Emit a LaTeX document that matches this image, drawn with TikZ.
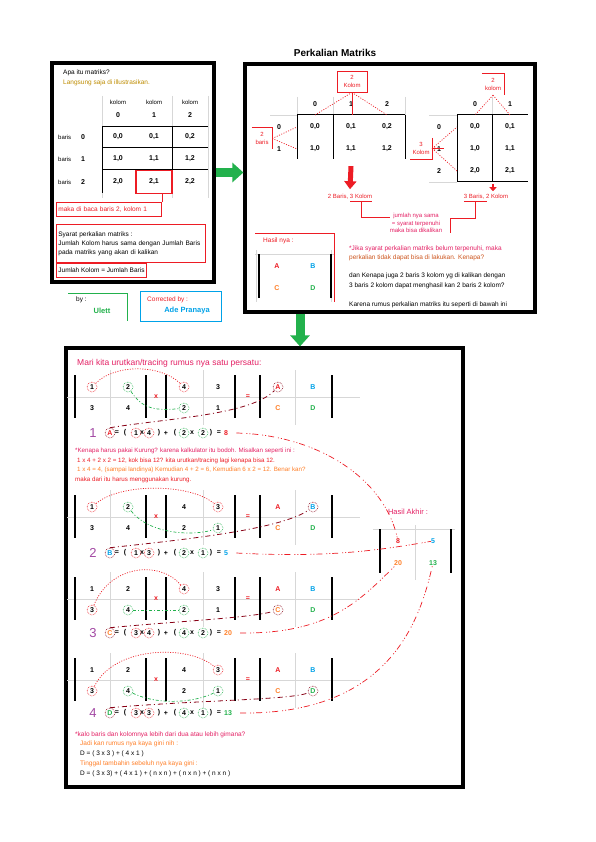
\documentclass[tikz,border=0pt]{standalone}
\usepackage{fontspec}
\setmainfont{Liberation Sans}
\usetikzlibrary{positioning, arrows.meta}

\definecolor{merah}{RGB}{237,28,36}
\definecolor{merahmuda}{RGB}{228,32,100}
\definecolor{hijau}{RGB}{34,177,76}
\definecolor{biru}{RGB}{0,162,232}
\definecolor{jingga}{RGB}{255,127,39}
\definecolor{coklat}{RGB}{205,85,30}
\definecolor{marun}{RGB}{136,0,21}
\definecolor{ungu}{RGB}{163,73,164}
\definecolor{abu}{RGB}{215,215,215}
\definecolor{kuning}{RGB}{190,140,0}

% satu blok matriks: #1 nomor, #2 y atas, #3 isi sel
\newcommand\isiblok[3]{%
  \foreach \xg in {110,203,295} \draw[gline] (\xg,#2-5) -- (\xg,#2+50);
  \draw[gline] (67,#2+22) -- (360,#2+22);
  \foreach \xb in {75,146,166,235,260,332} \draw[bar] (\xb,#2) -- (\xb,#2+43);
  \node[tanda, text=merah] (kali#1) at (156,#2+22) {x};
  \node[tanda, text=merah] (samdg#1) at (248,#2+22) {=};
  \foreach \ci/\ri/\isi/\gaya in {#3} {
    \pgfmathsetmacro\xx{{92,128,184,218,278,313}[\ci-1]}
    \node[\gaya] (p#1\ci\ri) at (\xx,#2+21*\ri-9) {\isi};
  }%
}
% baris rumus: #1 nomor, #2 y, #3 gaya huruf, #4 huruf, #5 angka, #6 hasil, #7 warna
\newcommand\rumus[7]{%
  \node[nomor] (no#1) at (93,#2) {#1};
  \node[#3] (r#1) at (110,#2) {#4};
  \foreach \xs/\isi [count=\i] in {117/=,125/{(},142/x,159/{)},166/+,175/{(},192/x,211/{)},219/=}
    \node[tanda] (s#1-\i) at (\xs,#2) {\isi};
  \foreach \xs/\isi/\gaya [count=\i] in {#5}
    \node[\gaya] (q#1-\i) at (\xs,#2) {\isi};
  \node[tanda, text=#7, anchor=west] (h#1) at (224,#2) {#6};
}

\begin{document}
\begin{tikzpicture}[x=1pt, y=-1pt,
  txt/.style={font=\fontsize{6.5}{8}\selectfont, inner sep=0pt, anchor=west},
  lbl/.style={font=\fontsize{6}{7.5}\selectfont, inner sep=0pt, align=center},
  cell/.style={font=\fontsize{7}{8}\selectfont\bfseries, inner sep=0pt},
  tanda/.style={font=\fontsize{7}{8}\selectfont\bfseries, inner sep=0pt},
  nomor/.style={font=\fontsize{13}{13}\selectfont, text=ungu, inner sep=0pt},
  frame/.style={draw, line width=3.2pt, inner sep=0pt},
  mline/.style={line width=1pt},
  bar/.style={line width=1.8pt},
  gline/.style={draw=abu, line width=0.7pt},
  rline/.style={draw=merah, line width=0.8pt},
  rbox/.style={draw=merah, line width=0.8pt, inner sep=2pt},
  garrow/.style={draw=hijau, line width=9pt, -{Triangle[length=11pt,width=19pt]}},
  rarrow/.style={draw=merah, line width=5pt, -{Triangle[length=8pt,width=12pt]}},
  angka/.style={tanda},
  lingkar/.style={tanda, circle, densely dotted, line width=0.6pt, minimum size=10pt},
  angkam/.style={lingkar, draw=merah},
  angkah/.style={lingkar, draw=hijau},
  hurA/.style={tanda, text=merah},
  hurB/.style={tanda, text=biru},
  hurC/.style={tanda, text=jingga},
  hurD/.style={tanda, text=hijau},
  lingA/.style={lingkar, draw=marun, text=merah},
  lingB/.style={lingkar, draw=marun, text=biru},
  lingC/.style={lingkar, draw=marun, text=jingga},
  lingD/.style={lingkar, draw=marun, text=hijau},
  jmerah/.style={draw=merah, line width=0.7pt, dash pattern=on 1pt off 1.5pt},
  jhijau/.style={draw=hijau, line width=0.7pt, dash pattern=on 3pt off 2pt on 1pt off 2pt},
  jmarun/.style={draw=marun, line width=0.8pt, dash pattern=on 5pt off 3pt on 1pt off 3pt},
  jhasil/.style={draw=merah, line width=0.7pt, dash pattern=on 6pt off 4pt on 1pt off 2pt on 1pt off 2pt},
]
\fill[white] (0,0) rectangle (595,842);
\useasboundingbox (0,0) rectangle (595,842);

% Kotak kiri atas
\node[frame, minimum width=162pt, minimum height=219pt] (kiri) at (133,172.5) {};
\node[txt] (apa) at (63,73) {Apa itu matriks?};
\node[txt, text=kuning] (langsung) at (63,83) {Langsung saja di illustrasikan.};
\foreach \xg in {102,172,208} \draw[gline] (\xg,96) -- (\xg,198);
\foreach \ci in {0,1,2} {
  \node[txt, anchor=center, font=\fontsize{6}{7}\selectfont] (kk\ci) at ({118+36*\ci},102) {kolom};
  \node[cell] (kn\ci) at ({118+36*\ci},115) {\ci};
}
\foreach \ri/\yr in {0/137,1/159,2/182} {
  \node[txt, font=\fontsize{6}{7}\selectfont] (kb\ri) at (58,\yr) {baris};
  \node[cell] (kr\ri) at (83,\yr) {\ri};
  \foreach \ci in {0,1,2}
    \node[cell] (k\ri\ci) at ({118+36*\ci},\yr) {\ri,\ci};
}
\draw[mline] (102,127) -- (208,127) (102,148) -- (208,148) (102,170) -- (208,170)
  (102,127) -- (102,193) (172,127) -- (172,193);
\node[draw=merah, line width=1.4pt, minimum width=36pt, minimum height=23pt] (sel21) at (k21) {};
\node[rbox, anchor=north west, text width=101pt, minimum height=14pt, font=\fontsize{6.5}{8}\selectfont, text=merah] (baca) at (56,202) {maka di baca baris 2, kolom 1};
\draw[rline] ([xshift=8pt]sel21.south) -- ([xshift=8pt]sel21.south |- baca.north);
\node[rbox, anchor=north west, text width=145pt, minimum height=38pt, align=left, font=\fontsize{6.5}{9}\selectfont] (syarat) at (56,224) {Syarat perkalian matriks :\\Jumlah Kolom harus sama dengan Jumlah Baris\\pada matriks yang akan di kalikan};
\node[rbox, anchor=north west, font=\fontsize{6.5}{8}\selectfont, minimum height=14pt] (jumlah) at (syarat.south west) {Jumlah Kolom = Jumlah Baris};

% Pembuat
\draw[draw=hijau, line width=0.8pt] (68,293) -| (127,321);
\node[txt] (oleh) at (76,300) {by :};
\node[font=\fontsize{7.5}{9}\selectfont\bfseries, text=hijau] (ulett) at (102,311) {Ulett};
\draw[draw=biru, line width=0.8pt] (140,291) rectangle (221,321);
\node[txt, text=merah] (koreksi) at (147,300) {Corrected by :};
\node[font=\fontsize{7.5}{9}\selectfont\bfseries, text=biru] (ade) at (187,311) {Ade Pranaya};

% Kotak kanan
\node[frame, minimum width=290pt, minimum height=248pt] (kanan) at (390,188) {};
\node[font=\fontsize{10}{12}\selectfont\bfseries] (judul) at (335,53) {Perkalian Matriks};
\coordinate (m1) at (297,115);
\coordinate (m2) at (457,115);
\coordinate (m2b) at (457,182);
\draw[gline] (270,115) -- (297,115) (429,115) -- (457,115) (429,182) -- (457,182);
\foreach \xg in {297,333,405,492} \draw[gline] (\xg,97) -- (\xg,115);
\foreach \ci in {0,1,2} \node[cell] (ak\ci) at ({315+36*\ci},104) {\ci};
\foreach \ri in {0,1} {
  \node[cell] (ab\ri) at (279,{127+22*\ri}) {\ri};
  \foreach \ci in {0,1,2}
    \node[cell] (a\ri\ci) at ({315+36*\ci},{127+22*\ri}) {\ri,\ci};
}
\draw[mline] (297,115) -- (405,115) (297,115) -- (297,159) (333,115) -- (333,159) (405,115) -- (405,159);
\foreach \ci in {0,1} \node[cell] (bk\ci) at ({475+35*\ci},104) {\ci};
\foreach \ri in {0,1,2} {
  \node[cell] (bb\ri) at (439,{127+22*\ri}) {\ri};
  \foreach \ci in {0,1}
    \node[cell] (b\ri\ci) at ({475+35*\ci},{127+22*\ri}) {\ri,\ci};
}
\draw[mline] (457,115) -- (528,115) (457,182) -- (528,182) (457,115) -- (457,182) (492,115) -- (492,182);

% Label baris dan kolom
\node[lbl, text=merah, minimum width=30pt, minimum height=21pt, draw=merah, line width=0.8pt] (kol2) at (352,81.5) {2\\Kolom};
\draw[rline] (kol2.south) -- (kol2.south |- m1);
\draw[jmerah] (kol2.south) -- (a00 |- m1) (kol2.south) -- (a02 |- m1);
\node[lbl, text=merah, minimum width=20pt, minimum height=21pt] (bar2) at (262,138.5) {2\\baris};
\draw[rline] (bar2.north west) -- (bar2.north east) -- (bar2.south east);
\draw[jmerah] (bar2.east) -- (a00 -| m1) (bar2.east) -- (a10 -| m1);
\node[lbl, text=merah, minimum width=22pt, minimum height=21pt] (kol3) at (421,148.5) {3\\Kolom};
\draw[rline] (kol3.north east) -- (kol3.south east) -- (kol3.south west);
\draw[rline, {Stealth[length=3pt]}-] (kol3.east) -- ++(12,0);
\draw[jmerah] (kol3.east) -- (b00 -| m2) (kol3.east) -- (b20 -| m2);
\node[lbl, text=merah, minimum width=22pt, minimum height=21pt] (kol2b) at (493,84.5) {2\\kolom};
\draw[rline] (kol2b.north west) -- (kol2b.north east) -- (kol2b.south east);
\draw[jmerah] (kol2b.south) -- (b00 |- m2) (kol2b.south) -- (b01 |- m2);

% Ukuran hasil
\node[lbl, text=merah] (dim1) at (350,197) {2 Baris, 3 Kolom};
\node[lbl, text=merah] (dim2) at (486,197) {3 Baris, 2 Kolom};
\coordinate (pk) at (m2b -| kol2b);
\draw[rarrow] ([yshift=-14pt]a11.south) -- ([yshift=5pt]dim1.north);
\draw[rarrow, line width=2.5pt, -{Triangle[length=4pt,width=7pt]}] ([yshift=-2pt]pk) -- ([yshift=3pt]pk |- dim2.north);
\node[lbl, text=merahmuda] (sama) at (416,223) {jumlah nya sama\\= syarat terpenuhi\\maka bisa dikalikan};
\draw[rline] ([xshift=-22pt,yshift=-1.5pt]dim1.south east) -- ([yshift=-1.5pt]dim1.south east);
\draw[rline] ([xshift=-11pt,yshift=-1.5pt]dim1.south east) |- ([yshift=6pt]sama.west);
\draw[rline] ([yshift=-1.5pt]dim2.south west) -- ([xshift=23pt,yshift=-1.5pt]dim2.south west);
\draw[rline] ([xshift=12pt,yshift=-1.5pt]dim2.south west) -- ++(0,17) -| ([xshift=8pt]sama.south east);
\node[txt, text=merahmuda] (jika1) at (349,249) {*Jika syarat perkalian matriks belum terpenuhi, maka};
\node[txt, text=coklat] (jika2) at (349,258) {perkalian tidak dapat bisa di lakukan. Kenapa?};
\node[txt] (dan1) at (349,276) {dan Kenapa juga 2 baris 3 kolom yg di kalikan dengan};
\node[txt] (dan2) at (349,286) {3 baris 2 kolom dapat menghasil kan 2 baris 2 kolom?};
\node[txt] (karena) at (349,305) {Karena rumus perkalian matriks itu seperti di bawah ini};

% Hasil nya
\node[txt, text=merah] (hasilnya) at (263,241) {Hasil nya :};
\draw[rline] (255,233) -| (334,302);
\draw[gline] (255,254) -- (334,254) (256,250) -- (256,302) (331,250) -- (331,302);
\draw[bar] (259,254) -- (259,298) (331,254) -- (331,298);
\node[hurA] (ha) at (277,266) {A};
\node[hurB] (hb) at (313,266) {B};
\node[hurC] (hc) at (277,288) {C};
\node[hurD] (hd) at (313,288) {D};

% Kotak bawah
\node[frame, minimum width=397pt, minimum height=439pt] (bawah) at (264.5,567.5) {};
\draw[garrow] (kiri.east) -- (kiri.east -| kanan.west);
\draw[garrow] ([xshift=-90pt]kanan.south) -- ([xshift=-90pt]kanan.south |- bawah.north);
\node[txt, font=\fontsize{8.5}{10}\selectfont, text=merahmuda] (mari) at (77,363) {Mari kita urutkan/tracing rumus nya satu persatu:};

\isiblok{1}{375}{1/1/1/angkam, 2/1/2/angkah, 3/1/4/angkam, 4/1/3/angka, 5/1/A/lingA, 6/1/B/hurB, 1/2/3/angka, 2/2/4/angka, 3/2/2/angkah, 4/2/1/angka, 5/2/C/hurC, 6/2/D/hurD}
\isiblok{2}{495}{1/1/1/angkam, 2/1/2/angkah, 3/1/4/angka, 4/1/3/angkam, 5/1/A/hurA, 6/1/B/lingB, 1/2/3/angka, 2/2/4/angka, 3/2/2/angka, 4/2/1/angkah, 5/2/C/hurC, 6/2/D/hurD}
\isiblok{3}{577}{1/1/1/angka, 2/1/2/angka, 3/1/4/angkam, 4/1/3/angka, 5/1/A/hurA, 6/1/B/hurB, 1/2/3/angkam, 2/2/4/angkah, 3/2/2/angkah, 4/2/1/angka, 5/2/C/lingC, 6/2/D/hurD}
\isiblok{4}{658}{1/1/1/angka, 2/1/2/angka, 3/1/4/angka, 4/1/3/angkam, 5/1/A/hurA, 6/1/B/hurB, 1/2/3/angkam, 2/2/4/angkah, 3/2/2/angka, 4/2/1/angkah, 5/2/C/hurC, 6/2/D/lingD}

\rumus{1}{433}{lingA}{A}{136/1/angkam,149/4/angkam,184/2/angkah,203/2/angkah}{8}{merah}
\rumus{2}{553}{lingB}{B}{136/1/angkam,149/3/angkam,184/2/angkah,203/1/angkah}{5}{biru}
\rumus{3}{633}{lingC}{C}{136/3/angkam,149/4/angkam,184/4/angkah,203/2/angkah}{20}{jingga}
\rumus{4}{713}{lingD}{D}{136/3/angkam,149/3/angkam,184/4/angkah,203/1/angkah}{13}{hijau}

\node[txt, font=\fontsize{6.2}{8}\selectfont, text=merahmuda] (kenapa1) at (75,451) {*Kenapa harus pakai Kurung? karena kalkulator itu bodoh. Misalkan seperti ini :};
\node[txt, font=\fontsize{6.2}{8}\selectfont, text=merah] (kenapa2) at (77,461) {1 x 4 + 2 x 2 = 12, kok bisa 12? kita urutkan/tracing lagi kenapa bisa 12.};
\node[txt, font=\fontsize{6.2}{8}\selectfont, text=jingga] (kenapa3) at (77,470) {1 x 4 = 4, (sampai landinya) Kemudian 4 + 2 = 6, Kemudian 6 x 2 = 12. Benar kan?};
\node[txt, font=\fontsize{6.2}{8}\selectfont, text=merah] (kenapa4) at (75,480) {maka dari itu harus menggunakan kurung.};

% Hasil akhir
\node[font=\fontsize{7.5}{9}\selectfont, text=merahmuda] (akhir) at (408,512) {Hasil Akhir :};
\draw[gline] (373,529) -- (455,529) (415,525) -- (415,580);
\draw[bar] (380,529) -- (380,573) (451,529) -- (451,573);
\node[tanda, text=merah] (ha8) at (398,541) {8};
\node[tanda, text=biru] (ha5) at (433,541) {5};
\node[tanda, text=jingga] (ha20) at (398,563) {20};
\node[tanda, text=hijau] (ha13) at (433,563) {13};

% Jejak rumus
\draw[jmerah] (p111) .. controls (115,364) and (160,364) .. (p131);
\draw[jhijau] (p121) .. controls (140,405) and (150,412) .. (p132);
\draw[jmarun] (r1.north) .. controls (170,418) and (250,415) .. (p151);
\draw[jhasil] ([xshift=8pt]h1.east) .. controls (320,435) and (385,480) .. (ha8);
\draw[jmerah] (p211) .. controls (120,483) and (190,483) .. (p241);
\draw[jhijau] (p221) .. controls (150,535) and (195,536) .. (p242);
\draw[jmarun] (r2.north) .. controls (180,540) and (280,530) .. (p261);
\draw[jhasil] ([xshift=8pt]h2.east) .. controls (330,558) and (380,550) .. (ha5);
\draw[jmerah] (p312) .. controls (110,565) and (160,560) .. (p331);
\draw[jhijau] (p322) -- (p332);
\draw[jmarun] (r3.north) .. controls (180,621) and (250,618) .. (p352);
\draw[jhasil] ([xshift=8pt]h3.east) .. controls (330,634) and (360,600) .. (ha20);
\draw[jmerah] (p412) .. controls (115,645) and (190,645) .. (p441);
\draw[jhijau] (p422) .. controls (160,706) and (195,702) .. (p442);
\draw[jmarun] (r4.north) .. controls (200,700) and (290,700) .. (p462);
\draw[jhasil] ([xshift=8pt]h4.east) .. controls (390,715) and (420,620) .. (ha13);

% Catatan bawah
\node[txt, text=merahmuda] (kalo) at (75,735) {*kalo baris dan kolomnya lebih dari dua atau lebih gimana?};
\node[txt, text=jingga] (jadi) at (80,744) {Jadi kan rumus nya kaya gini nih :};
\node[txt] (rumusd) at (80,754) {D = ( 3 x 3 ) + ( 4 x 1 )};
\node[txt, text=jingga] (tinggal) at (80,764) {Tinggal tambahin sebeluh nya kaya gini :};
\node[txt] (rumusn) at (80,774) {D = ( 3 x 3) + ( 4 x 1 ) + ( n x n ) + ( n x n ) + ( n x n )};
\end{tikzpicture}
\end{document}
